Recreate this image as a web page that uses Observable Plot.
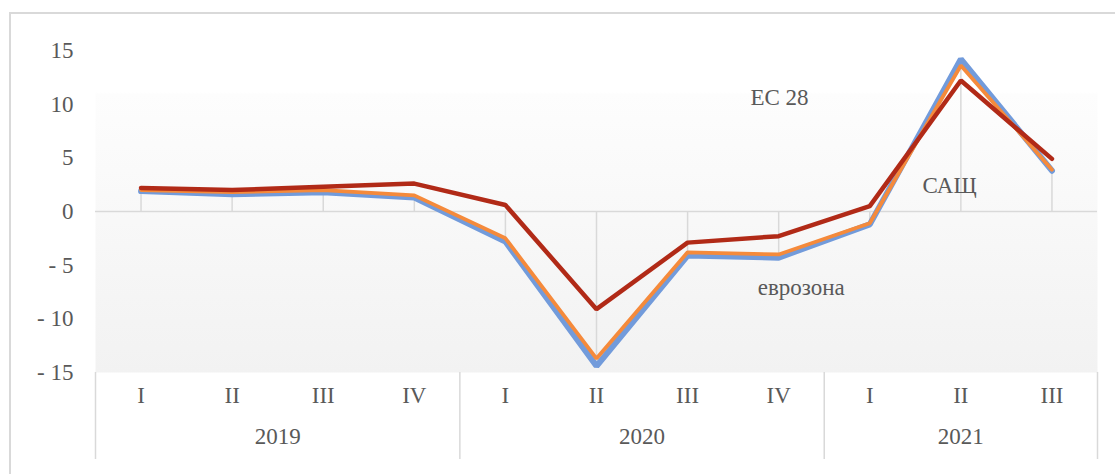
<!DOCTYPE html>
<html>
<head>
<meta charset="utf-8">
<script src="https://cdn.jsdelivr.net/npm/d3@7"></script>
<script src="https://cdn.jsdelivr.net/npm/@observablehq/plot@0.6"></script>
<style>
  html, body { margin: 0; padding: 0; background: #fff; overflow: hidden; }
  #wrap { position: relative; width: 1115px; height: 474px; }
  #border { position: absolute; left: 9px; top: 12px; width: 1200px; height: 600px;
            border: 2px solid #d9d9d9; box-sizing: border-box; }
  #chart { position: absolute; left: 0; top: 0; }
  #chart svg text { font-family: "Liberation Serif", "Times New Roman", serif; }
</style>
</head>
<body>
<div id="wrap">
  <div id="border"></div>
  <div id="chart"></div>
</div>
<script>
// Quarterly GDP growth, % change on the same quarter of the previous year
const quarters = ["I", "II", "III", "IV", "I", "II", "III", "IV", "I", "II", "III"];
const years    = [2019, 2019, 2019, 2019, 2020, 2020, 2020, 2020, 2021, 2021, 2021];
const eurozone = [1.9, 1.6, 1.8, 1.3, -2.8, -14.4, -4.1, -4.3, -1.2, 14.2, 3.8];
const eu28     = [2.0, 1.8, 2.0, 1.5, -2.5, -13.7, -3.8, -4.0, -1.1, 13.6, 3.9];
const usa      = [2.2, 2.0, 2.3, 2.6, 0.6, -9.1, -2.9, -2.3, 0.5, 12.2, 4.9];
const yTicks   = [-15, -10, -5, 0, 5, 10, 15];

const idx = quarters.map((_, i) => i);
const rows = (vals) => idx.map(i => ({i, v: vals[i]}));

// year groups: centre and boundaries in index units
const yearGroups = d3.groups(idx, i => years[i]).map(([year, is]) => ({
  year, mid: (is[0] + is[is.length - 1]) / 2, lo: is[0] - 0.5, hi: is[is.length - 1] + 0.5
}));
const bounds = Array.from(new Set(yearGroups.flatMap(g => [g.lo, g.hi])));

const font = "Liberation Serif";
const textColor = "#595959";
const grid = "#d9d9d9";
const txt = { fill: textColor, fontSize: 23, fontFamily: font };

const plot = Plot.plot({
  width: 1115,
  height: 474,
  marginLeft: 95,
  marginRight: 18,
  marginTop: 50,
  marginBottom: 102,
  style: { fontFamily: font, fontSize: "23px", color: textColor, background: "transparent" },
  x: { type: "linear", domain: [-0.5, quarters.length - 0.5], axis: null },
  y: { domain: [-15, 15], axis: null },
  marks: [
    Plot.frame({ fill: "url(#plotBg)", stroke: "none" }),
    Plot.ruleY([0], { stroke: grid, strokeWidth: 1.5 }),
    Plot.ruleX(rows(eurozone), { x: "i", y1: 0, y2: "v", stroke: grid, strokeWidth: 1.5 }),
    Plot.ruleX(bounds, { x: d => d, y1: -15, y2: -15, insetBottom: -87, stroke: grid, strokeWidth: 1.5 }),
    Plot.text(yTicks, {
      x: -0.5, y: d => d, text: d => d < 0 ? "- " + Math.abs(d) : String(d),
      textAnchor: "end", dx: -22, ...txt
    }),
    Plot.text(idx, { x: d => d, frameAnchor: "bottom", text: d => quarters[d], dy: 30, ...txt }),
    Plot.text(yearGroups, { x: "mid", frameAnchor: "bottom", text: d => String(d.year), dy: 71, ...txt }),
    Plot.line(rows(eurozone), { x: "i", y: "v", stroke: "#729bdb", strokeWidth: 6, strokeLinejoin: "miter" }),
    Plot.line(rows(eu28), { x: "i", y: "v", stroke: "#f58a3b", strokeWidth: 3.8, strokeLinejoin: "miter" }),
    Plot.line(rows(usa), { x: "i", y: "v", stroke: "#b12a17", strokeWidth: 4.5, strokeLinejoin: "miter" }),
    // series labels
    Plot.text([
      { label: "ЕС 28", at: 6.69, v: 10.6 },
      { label: "САЩ", at: 8.58, v: 2.4 },
      { label: "еврозона", at: 6.77, v: -7.1 }
    ], { x: "at", y: "v", text: "label", textAnchor: "start", ...txt })
  ]
});

// vertical gradient for the plot background
const svg = d3.select(plot);
const grad = svg.insert("defs", ":first-child")
  .append("linearGradient")
  .attr("id", "plotBg").attr("x1", 0).attr("y1", 0).attr("x2", 0).attr("y2", 1);
grad.append("stop").attr("offset", 0).attr("stop-color", "#ffffff");
grad.append("stop").attr("offset", 0.13).attr("stop-color", "#ffffff");
grad.append("stop").attr("offset", 0.135).attr("stop-color", "#fdfdfd");
grad.append("stop").attr("offset", 1).attr("stop-color", "#f2f2f2");

document.getElementById("chart").appendChild(plot);
</script>
</body>
</html>
